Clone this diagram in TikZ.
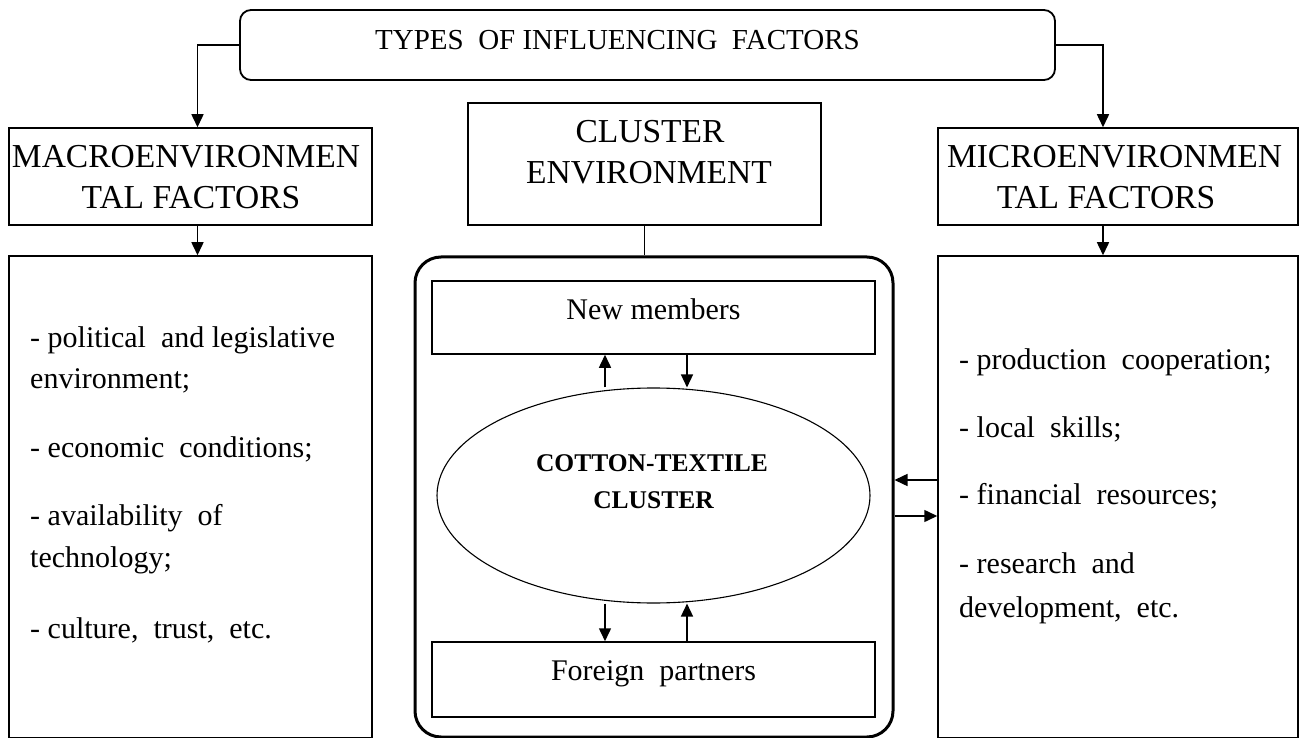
\documentclass[tikz,border=0pt]{standalone}
\usepackage{fontspec}
\setmainfont{Liberation Serif}
\usetikzlibrary{arrows.meta,shapes.geometric}
\tikzset{
  box/.style={draw, line width=1.5pt, inner sep=0pt, rectangle},
  arr/.style={line width=1.5pt, -{Triangle[length=13pt,width=12pt]}},
  ln/.style={line width=1.5pt},
  head/.style={anchor=base, inner sep=0pt, font=\fontsize{33.5}{40}\selectfont},
  ttl/.style={anchor=base, inner sep=0pt, font=\fontsize{29}{34}\selectfont},
  body/.style={anchor=base west, inner sep=0pt, font=\fontsize{30}{36}\selectfont},
  bodyc/.style={anchor=base, inner sep=0pt, font=\fontsize{30}{36}\selectfont},
  bold/.style={anchor=base, inner sep=0pt, font=\fontsize{25.5}{30}\selectfont\bfseries},
}
\begin{document}
\begin{tikzpicture}[x=1pt,y=-1pt]
\useasboundingbox (0,0) rectangle (1299,738);
% boxes
\node[box, rounded corners=11pt, line width=1.8pt, minimum width=815pt, minimum height=70pt] (top) at (647.5,45) {};
\node[box, minimum width=363pt, minimum height=97pt] (macro) at (190.5,176.5) {};
\node[box, minimum width=353pt, minimum height=122pt] (cenv) at (644.5,164) {};
\node[box, minimum width=360pt, minimum height=97pt] (micro) at (1118,176.5) {};
\node[box, minimum width=363pt, minimum height=482pt] (ltext) at (190.5,497) {};
\node[box, minimum width=360pt, minimum height=482pt] (rtext) at (1118,497) {};
\node[box, rounded corners=26pt, line width=3pt, minimum width=478pt, minimum height=480pt] (big) at (654,497) {};
\node[box, minimum width=443pt, minimum height=73pt] (nm) at (653.5,317.5) {};
\node[box, minimum width=443pt, minimum height=75pt] (fp) at (653.5,679.5) {};
\node[draw, ellipse, line width=1.1pt, inner sep=0pt, minimum width=433pt, minimum height=215pt] (ell) at (653.5,495.5) {};
% texts
\node[ttl] (ttltxt) at (617.5,50) {TYPES\ \ OF INFLUENCING\ \ FACTORS};
\node[head] (mac1) at (186,168) {MACROENVIRONMEN};
\node[head] (mac2) at (191,209) {TAL\ FACTORS};
\node[head] (mic1) at (1114.5,168) {MICROENVIRONMEN};
\node[head] (mic2) at (1106,209) {TAL\ FACTORS};
\node[head] (cl1) at (650,143) {CLUSTER};
\node[head] (cl2) at (649,184) {ENVIRONMENT};
\node[bodyc] (nmt) at (653.5,319) {New members};
\node[bodyc] (fpt) at (653.5,680) {Foreign\ \ partners};
\node[bold] (ct1) at (652,471) {COTTON-TEXTILE};
\node[bold] (ct2) at (653.5,508) {CLUSTER};
\node[body] (l1) at (30,347) {- political\ \ and legislative};
\node[body] (l2) at (30,388) {environment;};
\node[body] (l3) at (30,457) {- economic\ \ conditions;};
\node[body] (l4) at (30,525) {- availability\ \ of};
\node[body] (l5) at (30,567) {technology;};
\node[body] (l6) at (30,638) {- culture,\ \ trust,\ \ etc.};
\node[body] (r1) at (959,369) {- production\ \ cooperation;};
\node[body] (r2) at (959,437) {- local\ \ skills;};
\node[body] (r3) at (959,504) {- financial\ \ resources;};
\node[body] (r4) at (959,573) {- research\ \ and};
\node[body] (r5) at (959,617) {development,\ \ etc.};
% connectors
\draw[arr] (top.west) -| ([xshift=7pt]macro.north);
\draw[arr] (top.east) -| ([xshift=-15pt]micro.north);
\draw[arr] ([xshift=7pt]macro.south) -- ([xshift=7pt]ltext.north);
\draw[arr] ([xshift=-15pt]micro.south) -- ([xshift=-15pt]rtext.north);
\draw[ln] (cenv.south) -- (big.north -| cenv.south);
\coordinate (xa) at (605,0);
\coordinate (xb) at (687,0);
\coordinate (ya) at (0,480);
\coordinate (yb) at (0,516);
\draw[arr] (ell.north -| xa) -- (nm.south -| xa);
\draw[arr] (nm.south -| xb) -- (ell.north -| xb);
\draw[arr] (ell.south -| xa) -- (fp.north -| xa);
\draw[arr] (fp.north -| xb) -- (ell.south -| xb);
\draw[arr] (rtext.west |- ya) -- (big.east |- ya);
\draw[arr] (big.east |- yb) -- (rtext.west |- yb);
\end{tikzpicture}
\end{document}
